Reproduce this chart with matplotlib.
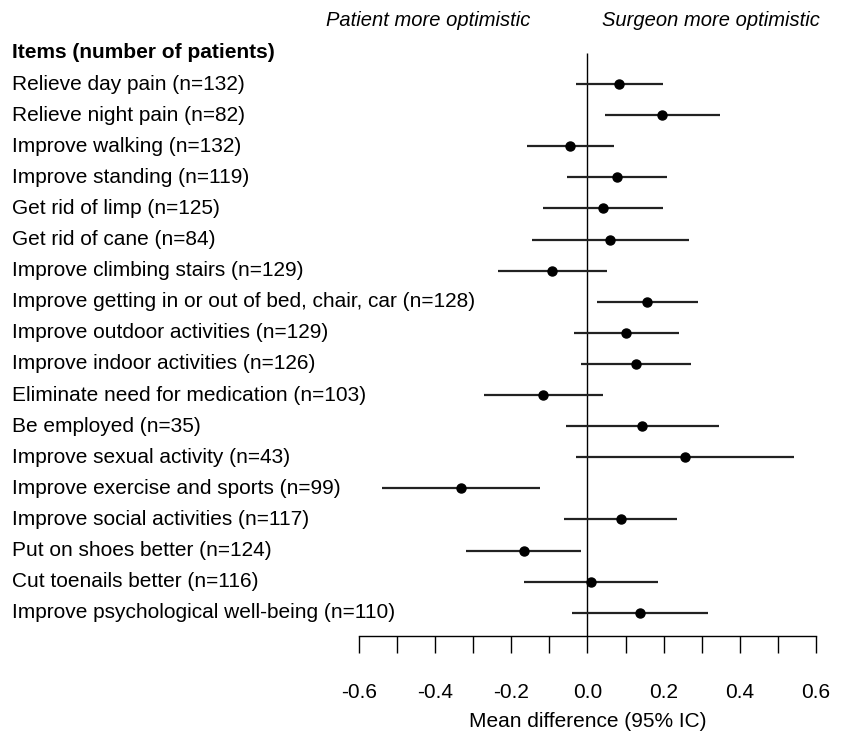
import matplotlib
matplotlib.use("Agg")
import matplotlib.pyplot as plt
import matplotlib.transforms as mtransforms

plt.rcParams['font.family'] = ['Liberation Sans', 'DejaVu Sans']

items = [
    "Relieve day pain (n=132)",
    "Relieve night pain (n=82)",
    "Improve walking (n=132)",
    "Improve standing (n=119)",
    "Get rid of limp (n=125)",
    "Get rid of cane (n=84)",
    "Improve climbing stairs (n=129)",
    "Improve getting in or out of bed, chair, car (n=128)",
    "Improve outdoor activities (n=129)",
    "Improve indoor activities (n=126)",
    "Eliminate need for medication (n=103)",
    "Be employed (n=35)",
    "Improve sexual activity (n=43)",
    "Improve exercise and sports (n=99)",
    "Improve social activities (n=117)",
    "Put on shoes better (n=124)",
    "Cut toenails better (n=116)",
    "Improve psychological well-being (n=110)",
]
mean_diff = [0.084, 0.195, -0.045, 0.077, 0.040, 0.060, -0.093, 0.156, 0.100,
             0.127, -0.116, 0.144, 0.257, -0.333, 0.087, -0.168, 0.010, 0.137]
ci_low = [-0.029, 0.046, -0.159, -0.055, -0.117, -0.146, -0.234, 0.025, -0.036,
          -0.016, -0.272, -0.056, -0.029, -0.539, -0.062, -0.319, -0.167, -0.041]
ci_high = [0.197, 0.347, 0.069, 0.208, 0.198, 0.267, 0.051, 0.289, 0.239,
           0.271, 0.041, 0.344, 0.543, -0.125, 0.235, -0.017, 0.185, 0.316]
xticks = [-0.6, -0.5, -0.4, -0.3, -0.2, -0.1, 0.0, 0.1, 0.2, 0.3, 0.4, 0.5, 0.6]
xticklabels = ["-0.6", "", "-0.4", "", "-0.2", "", "0.0", "", "0.2", "", "0.4", "", "0.6"]

FS = 15
W, H = 854, 733
fig = plt.figure(figsize=(W / 100, H / 100), dpi=100)
left, right = 359 / W, 816 / W
bottom_px = 635.7
ax = fig.add_axes([left, 1 - bottom_px / H, right - left, bottom_px / H])

row0, step = 84.0, 31.1
ax.set_xlim(-0.6, 0.6)
ax.set_ylim((bottom_px - row0) / step, (0 - row0) / step)

for s in ['top', 'right', 'left']:
    ax.spines[s].set_visible(False)
ax.spines['bottom'].set_linewidth(1.0)
ax.set_yticks([])
ax.set_xticks(xticks)
ax.set_xticklabels(xticklabels, fontsize=FS)
ax.tick_params(axis='x', direction='out', length=12, width=1.0, pad=22)
ax.set_xlabel("Mean difference (95% IC)", fontsize=FS, labelpad=7.5)

ypos = list(range(len(items)))
ax.vlines(0, -1.01, (bottom_px - row0) / step, color='black', lw=1.0, clip_on=False)
ax.hlines(ypos, ci_low, ci_high, color='#222222', lw=1.6)
ax.plot(mean_diff, ypos, 'o', color='black', markersize=6.5, zorder=3)

trans = mtransforms.blended_transform_factory(fig.transFigure, ax.transData)
for y, lab in zip(ypos, items):
    ax.text(12 / W, y, lab, transform=trans, ha='left', va='center',
            fontsize=FS, clip_on=False)
ax.text(12 / W, -1.0, "Items (number of patients)", transform=trans, ha='left',
        va='center', fontsize=FS, fontweight='bold', clip_on=False)

ax.text(428 / W, 1 - 21 / H, "Patient more optimistic", transform=fig.transFigure,
        ha='center', va='center', fontsize=14.5, style='italic')
ax.text(711 / W, 1 - 21 / H, "Surgeon more optimistic", transform=fig.transFigure,
        ha='center', va='center', fontsize=14.5, style='italic')

fig.savefig("out.png", dpi=100)
